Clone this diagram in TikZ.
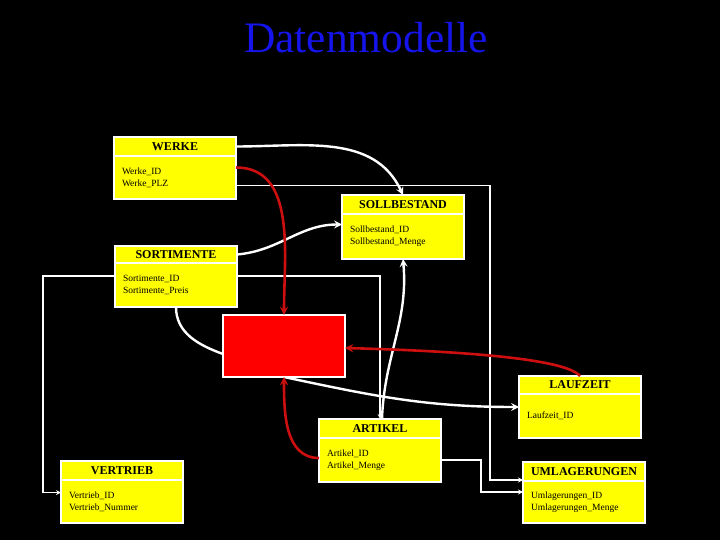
\documentclass[tikz,border=0pt]{standalone}
\usepackage{fontspec}
\setmainfont{Liberation Serif}
\usetikzlibrary{positioning}

\definecolor{gelb}{RGB}{255,255,0}
\definecolor{rot}{RGB}{255,0,0}
\definecolor{dunkelrot}{RGB}{205,15,15}
\definecolor{titelblau}{RGB}{20,20,235}

\tikzset{
  kopf/.style={draw=white, fill=gelb, line width=1.6pt, outer sep=0pt,
    minimum width=122pt, minimum height=19pt, inner sep=1pt,
    font=\fontsize{12}{12}\selectfont\bfseries},
  rumpf/.style={draw=white, fill=gelb, line width=1.6pt, outer sep=0pt,
    minimum width=122pt, minimum height=43pt, inner sep=0pt,
    text width=106pt, align=left, font=\fontsize{9.5}{12}\selectfont},
  wdick/.style={draw=white, line width=2.4pt},
  wduenn/.style={draw=white, line width=1.2pt},
  rdick/.style={draw=dunkelrot, line width=2.6pt},
}

\begin{document}
\begin{tikzpicture}[x=1pt, y=1pt, >=stealth]

  % --- Hintergrund ---
  \fill[black] (0,0) rectangle (720,-540);
  \useasboundingbox (0,0) rectangle (720,-540);

  % --- Titel ---
  \node[anchor=base, text=titelblau, font=\fontsize{43.5}{44}\selectfont]
      (titel) at (366,-53) {Datenmodelle};

  % --- Tabellen ---
  \node[kopf, anchor=north west] (werke) at (114,-137) {WERKE};
  \node[rumpf, below=0pt of werke] (werke-b) {Werke\_ID\\Werke\_PLZ};

  \node[kopf, anchor=north west] (soll) at (342,-195) {SOLLBESTAND};
  \node[rumpf, below=0pt of soll, minimum height=45pt] (soll-b)
      {Sollbestand\_ID\\Sollbestand\_Menge};

  \node[kopf, anchor=north west, minimum height=17pt] (sort) at (115,-246) {SORTIMENTE};
  \node[rumpf, below=0pt of sort, minimum height=44pt] (sort-b)
      {Sortimente\_ID\\Sortimente\_Preis};

  \node[kopf, anchor=north west] (vert) at (61,-461) {VERTRIEB};
  \node[rumpf, below=0pt of vert] (vert-b) {Vertrieb\_ID\\Vertrieb\_Nummer};

  \node[kopf, anchor=north west] (artikel) at (319,-419) {ARTIKEL};
  \node[rumpf, below=0pt of artikel, minimum height=44pt] (artikel-b)
      {Artikel\_ID\\Artikel\_Menge};

  \node[kopf, anchor=north west, minimum height=18pt] (lauf) at (519,-376) {LAUFZEIT};
  \node[rumpf, below=0pt of lauf, minimum height=44pt] (lauf-b) {Laufzeit\_ID};

  \node[kopf, anchor=north west] (umla) at (523,-462) {UMLAGERUNGEN};
  \node[rumpf, below=0pt of umla, minimum height=42pt] (umla-b)
      {Umlagerungen\_ID\\Umlagerungen\_Menge};

  % rotes Feld in der Mitte
  \node[draw=white, fill=rot, line width=1.8pt, outer sep=0pt,
        minimum width=122pt, minimum height=62pt, anchor=north west]
      (fakten) at (223,-315) {};

  % --- duenne Verbindungen ---
  \draw[wduenn, ->] ([yshift=-8pt]werke-b.east) -| ++(254,0) |- ([yshift=1pt]umla-b.north west);
  \draw[wduenn, ->] (artikel-b.east) -- ++(40,0) |- ([yshift=10pt]umla-b.west);
  \draw[wduenn, ->] ([yshift=9pt]sort-b.west) -- ++(-72,0) |- ([yshift=9pt]vert-b.west);
  \draw[wduenn, ->] ([yshift=9pt]sort-b.east) -| (artikel.north);

  % --- dicke weisse Verbindungen ---
  \draw[wdick, ->] (werke.east) to[out=0, in=115] (soll.north);
  \draw[wdick, ->] (sort.east) to[out=5, in=180] ([yshift=12pt]soll-b.west);
  \draw[wdick] (sort-b.south) to[out=-90, in=160] ([yshift=-8pt]fakten.west);
  \draw[wdick, ->] (fakten.south) to[out=-12, in=180] ([yshift=9pt]lauf-b.west);
  \draw[wdick, ->] ([xshift=2pt]artikel.north) to[out=88, in=-85] (soll-b.south);

  % --- rote Verbindungen ---
  \draw[rdick, ->] ([yshift=10pt]werke-b.east) to[out=0, in=90] (fakten.north);
  \draw[rdick, ->] (lauf.north) .. controls +(-15,18) and +(110,-3) .. ([yshift=-2pt]fakten.east);
  \draw[rdick, ->] ([yshift=2pt]artikel-b.west) to[out=180, in=-90] (fakten.south);

\end{tikzpicture}
\end{document}
